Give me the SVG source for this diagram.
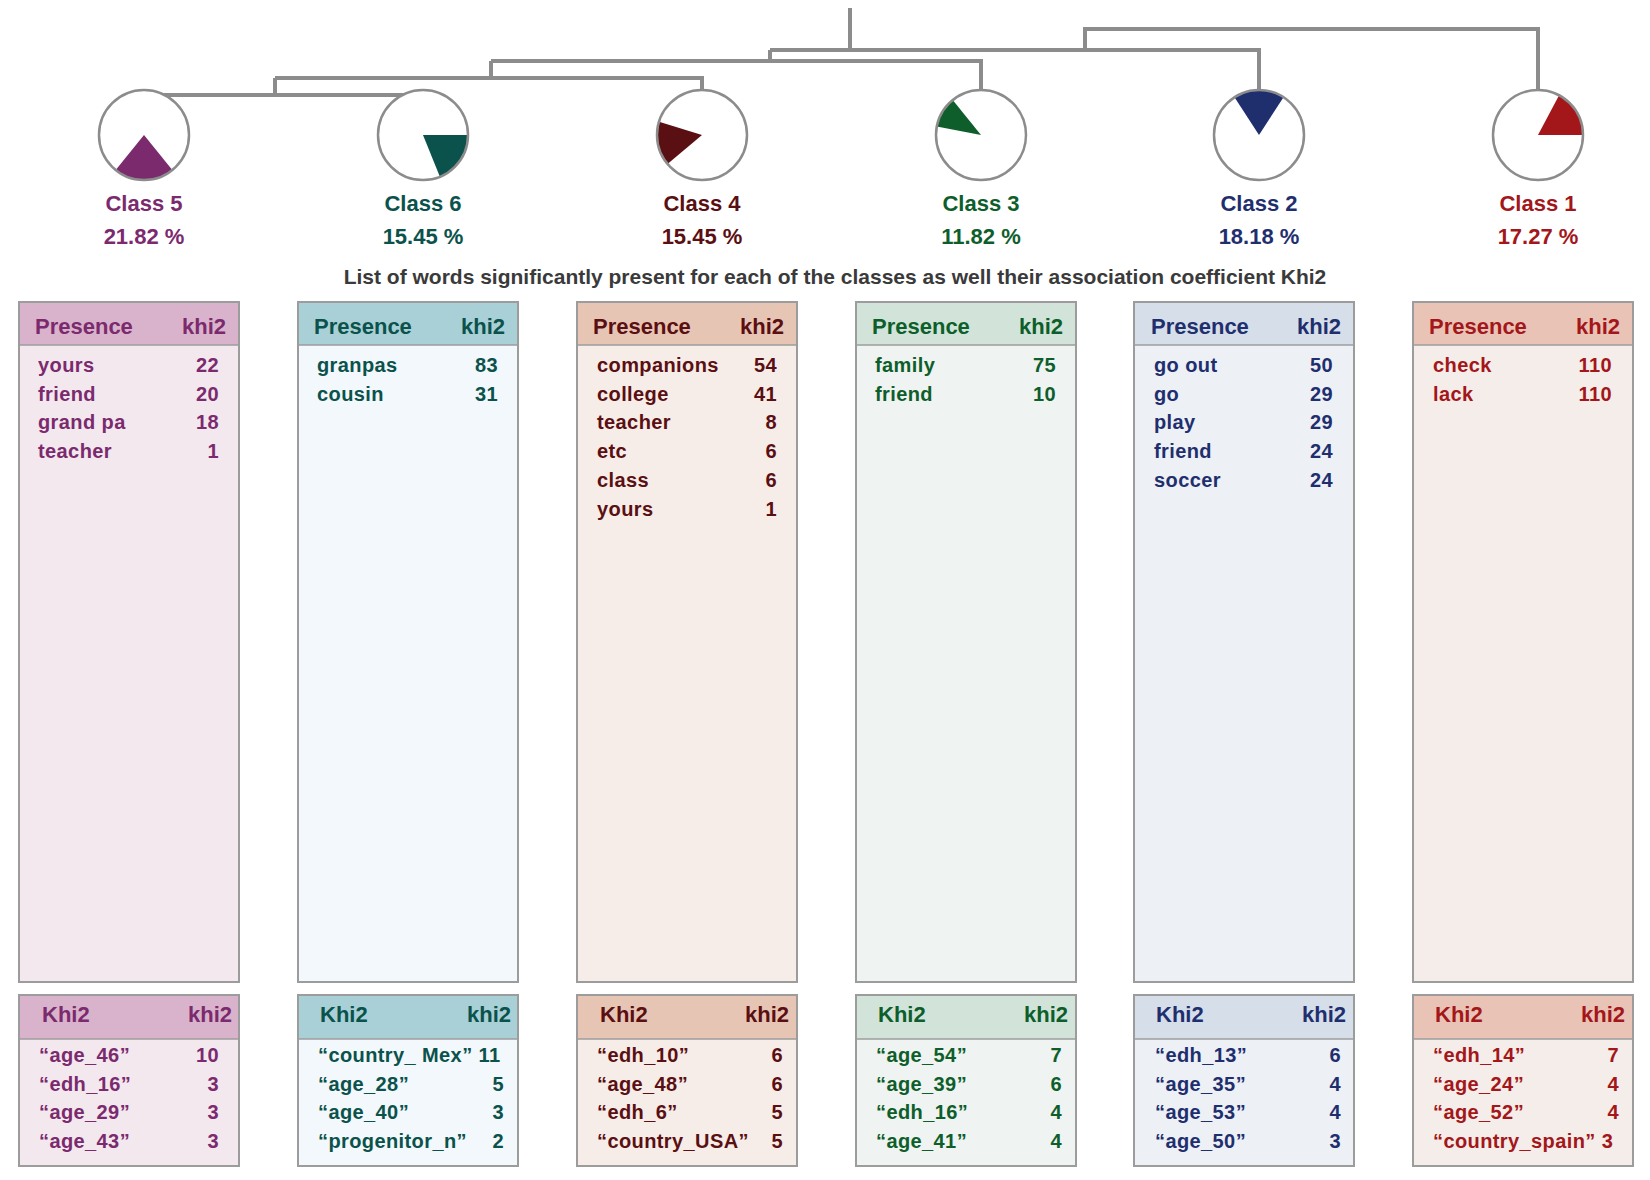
<svg xmlns="http://www.w3.org/2000/svg" width="1650" height="1180" viewBox="0 0 1650 1180">
<style>
text{font-family:"Liberation Sans",Arial,sans-serif;font-weight:bold}
.lbl{font-size:22px;text-anchor:middle}
.sub{font-size:21px;fill:#3a3a3a;text-anchor:middle}
.hd{font-size:22px}
.row{font-size:20px;letter-spacing:0.4px}
.r{text-anchor:end}
.box{stroke:#9c9c9c;stroke-width:2}
.sep{stroke:#9c9c9c;stroke-width:1.5}
.ring{fill:none;stroke:#8c8c8c;stroke-width:2.5}
.disc{fill:#ffffff}
.link{fill:none;stroke:#8c8c8c;stroke-width:4}
.t5{fill:#7b2a6e}.t6{fill:#0b524c}.t4{fill:#5a0f12}.t3{fill:#0e5e2b}.t2{fill:#1f2f6e}.t1{fill:#a3161a}
.h5{fill:#d9b3cb}.h6{fill:#a9d0d6}.h4{fill:#e7c5b5}.h3{fill:#d2e4d9}.h2{fill:#d6deea}.h1{fill:#e9c3b6}
.b5{fill:#f2e8ee}.b6{fill:#f2f8fb}.b4{fill:#f6ede9}.b3{fill:#eff3f1}.b2{fill:#edf1f6}.b1{fill:#f4ede9}
</style>
<rect width="1650" height="1180" fill="#ffffff"/>

<g id="connectors">
<path class="link" d="M144,95 H423"/>
<path class="link" d="M275,95 V78"/>
<path class="link" d="M275,78 H702 V135"/>
<path class="link" d="M491,78 V61"/>
<path class="link" d="M491,61 H981 V135"/>
<path class="link" d="M770,61 V50"/>
<path class="link" d="M770,50 H1259 V135"/>
<path class="link" d="M850,50 V8"/>
<path class="link" d="M1085,50 V29 H1538 V135"/>
</g>

<g id="class5">
<circle class="disc" cx="144" cy="135" r="45"/>
<path class="t5" d="M144,135 L172.3,170 A45,45 0 0 1 115.7,170 Z"/>
<circle class="ring" cx="144" cy="135" r="45"/>
<text class="lbl t5" x="144" y="211">Class 5</text>
<text class="lbl t5" x="144" y="244">21.82 %</text>
</g>
<g id="class6">
<circle class="disc" cx="423" cy="135" r="45"/>
<path class="t6" d="M423,135 L468,135 A45,45 0 0 1 439.9,176.7 Z"/>
<circle class="ring" cx="423" cy="135" r="45"/>
<text class="lbl t6" x="423" y="211">Class 6</text>
<text class="lbl t6" x="423" y="244">15.45 %</text>
</g>
<g id="class4">
<circle class="disc" cx="702" cy="135" r="45"/>
<path class="t4" d="M702,135 L667.5,163.9 A45,45 0 0 1 659,121.8 Z"/>
<circle class="ring" cx="702" cy="135" r="45"/>
<text class="lbl t4" x="702" y="211">Class 4</text>
<text class="lbl t4" x="702" y="244">15.45 %</text>
</g>
<g id="class3">
<circle class="disc" cx="981" cy="135" r="45"/>
<path class="t3" d="M981,135 L936.8,126.4 A45,45 0 0 1 952.7,100 Z"/>
<circle class="ring" cx="981" cy="135" r="45"/>
<text class="lbl t3" x="981" y="211">Class 3</text>
<text class="lbl t3" x="981" y="244">11.82 %</text>
</g>
<g id="class2">
<circle class="disc" cx="1259" cy="135" r="45"/>
<path class="t2" d="M1259,135 L1234.5,97.3 A45,45 0 0 1 1283.5,97.3 Z"/>
<circle class="ring" cx="1259" cy="135" r="45"/>
<text class="lbl t2" x="1259" y="211">Class 2</text>
<text class="lbl t2" x="1259" y="244">18.18 %</text>
</g>
<g id="class1">
<circle class="disc" cx="1538" cy="135" r="45"/>
<path class="t1" d="M1538,135 L1559.1,95.3 A45,45 0 0 1 1583,135 Z"/>
<circle class="ring" cx="1538" cy="135" r="45"/>
<text class="lbl t1" x="1538" y="211">Class 1</text>
<text class="lbl t1" x="1538" y="244">17.27 %</text>
</g>

<text id="subtitle" class="sub" x="835" y="284">List of words significantly present for each of the classes as well their association coefficient Khi2</text>

<!-- Class 5 tables -->
<g id="table5">
<rect class="b5" x="19" y="302" width="220" height="680"/>
<rect class="h5" x="19" y="302" width="220" height="43"/>
<line class="sep" x1="19" y1="345" x2="239" y2="345"/>
<rect class="box" x="19" y="302" width="220" height="680" fill="none"/>
<text class="hd t5" x="35" y="334">Presence</text><text class="hd t5 r" x="226" y="334">khi2</text>
<g class="row t5">
<text x="38" y="372">yours</text><text class="r" x="219" y="372">22</text>
<text x="38" y="400.7">friend</text><text class="r" x="219" y="400.7">20</text>
<text x="38" y="429.4">grand pa</text><text class="r" x="219" y="429.4">18</text>
<text x="38" y="458.1">teacher</text><text class="r" x="219" y="458.1">1</text>
</g>
</g>
<g id="khi5">
<rect class="b5" x="19" y="995" width="220" height="171"/>
<rect class="h5" x="19" y="995" width="220" height="44"/>
<line class="sep" x1="19" y1="1039" x2="239" y2="1039"/>
<rect class="box" x="19" y="995" width="220" height="171" fill="none"/>
<text class="hd t5" x="42" y="1022">Khi2</text><text class="hd t5 r" x="232" y="1022">khi2</text>
<g class="row t5">
<text x="39" y="1062">“age_46”</text><text class="r" x="219" y="1062">10</text>
<text x="39" y="1090.5">“edh_16”</text><text class="r" x="219" y="1090.5">3</text>
<text x="39" y="1119">“age_29”</text><text class="r" x="219" y="1119">3</text>
<text x="39" y="1147.5">“age_43”</text><text class="r" x="219" y="1147.5">3</text>
</g>
</g>

<!-- Class 6 tables -->
<g id="table6">
<rect class="b6" x="298" y="302" width="220" height="680"/>
<rect class="h6" x="298" y="302" width="220" height="43"/>
<line class="sep" x1="298" y1="345" x2="518" y2="345"/>
<rect class="box" x="298" y="302" width="220" height="680" fill="none"/>
<text class="hd t6" x="314" y="334">Presence</text><text class="hd t6 r" x="505" y="334">khi2</text>
<g class="row t6">
<text x="317" y="372">granpas</text><text class="r" x="498" y="372">83</text>
<text x="317" y="400.7">cousin</text><text class="r" x="498" y="400.7">31</text>
</g>
</g>
<g id="khi6">
<rect class="b6" x="298" y="995" width="220" height="171"/>
<rect class="h6" x="298" y="995" width="220" height="44"/>
<line class="sep" x1="298" y1="1039" x2="518" y2="1039"/>
<rect class="box" x="298" y="995" width="220" height="171" fill="none"/>
<text class="hd t6" x="320" y="1022">Khi2</text><text class="hd t6 r" x="511" y="1022">khi2</text>
<g class="row t6">
<text x="318" y="1062">“country_ Mex” 11</text>
<text x="318" y="1090.5">“age_28”</text><text class="r" x="504" y="1090.5">5</text>
<text x="318" y="1119">“age_40”</text><text class="r" x="504" y="1119">3</text>
<text x="318" y="1147.5">“progenitor_n”</text><text class="r" x="504" y="1147.5">2</text>
</g>
</g>

<!-- Class 4 tables -->
<g id="table4">
<rect class="b4" x="577" y="302" width="220" height="680"/>
<rect class="h4" x="577" y="302" width="220" height="43"/>
<line class="sep" x1="577" y1="345" x2="797" y2="345"/>
<rect class="box" x="577" y="302" width="220" height="680" fill="none"/>
<text class="hd t4" x="593" y="334">Presence</text><text class="hd t4 r" x="784" y="334">khi2</text>
<g class="row t4">
<text x="597" y="372">companions</text><text class="r" x="777" y="372">54</text>
<text x="597" y="400.7">college</text><text class="r" x="777" y="400.7">41</text>
<text x="597" y="429.4">teacher</text><text class="r" x="777" y="429.4">8</text>
<text x="597" y="458.1">etc</text><text class="r" x="777" y="458.1">6</text>
<text x="597" y="486.8">class</text><text class="r" x="777" y="486.8">6</text>
<text x="597" y="515.5">yours</text><text class="r" x="777" y="515.5">1</text>
</g>
</g>
<g id="khi4">
<rect class="b4" x="577" y="995" width="220" height="171"/>
<rect class="h4" x="577" y="995" width="220" height="44"/>
<line class="sep" x1="577" y1="1039" x2="797" y2="1039"/>
<rect class="box" x="577" y="995" width="220" height="171" fill="none"/>
<text class="hd t4" x="600" y="1022">Khi2</text><text class="hd t4 r" x="789" y="1022">khi2</text>
<g class="row t4">
<text x="597" y="1062">“edh_10”</text><text class="r" x="783" y="1062">6</text>
<text x="597" y="1090.5">“age_48”</text><text class="r" x="783" y="1090.5">6</text>
<text x="597" y="1119">“edh_6”</text><text class="r" x="783" y="1119">5</text>
<text x="597" y="1147.5">“country_USA”</text><text class="r" x="783" y="1147.5">5</text>
</g>
</g>

<!-- Class 3 tables -->
<g id="table3">
<rect class="b3" x="856" y="302" width="220" height="680"/>
<rect class="h3" x="856" y="302" width="220" height="43"/>
<line class="sep" x1="856" y1="345" x2="1076" y2="345"/>
<rect class="box" x="856" y="302" width="220" height="680" fill="none"/>
<text class="hd t3" x="872" y="334">Presence</text><text class="hd t3 r" x="1063" y="334">khi2</text>
<g class="row t3">
<text x="875" y="372">family</text><text class="r" x="1056" y="372">75</text>
<text x="875" y="400.7">friend</text><text class="r" x="1056" y="400.7">10</text>
</g>
</g>
<g id="khi3">
<rect class="b3" x="856" y="995" width="220" height="171"/>
<rect class="h3" x="856" y="995" width="220" height="44"/>
<line class="sep" x1="856" y1="1039" x2="1076" y2="1039"/>
<rect class="box" x="856" y="995" width="220" height="171" fill="none"/>
<text class="hd t3" x="878" y="1022">Khi2</text><text class="hd t3 r" x="1068" y="1022">khi2</text>
<g class="row t3">
<text x="876" y="1062">“age_54”</text><text class="r" x="1062" y="1062">7</text>
<text x="876" y="1090.5">“age_39”</text><text class="r" x="1062" y="1090.5">6</text>
<text x="876" y="1119">“edh_16”</text><text class="r" x="1062" y="1119">4</text>
<text x="876" y="1147.5">“age_41”</text><text class="r" x="1062" y="1147.5">4</text>
</g>
</g>

<!-- Class 2 tables -->
<g id="table2">
<rect class="b2" x="1134" y="302" width="220" height="680"/>
<rect class="h2" x="1134" y="302" width="220" height="43"/>
<line class="sep" x1="1134" y1="345" x2="1354" y2="345"/>
<rect class="box" x="1134" y="302" width="220" height="680" fill="none"/>
<text class="hd t2" x="1151" y="334">Presence</text><text class="hd t2 r" x="1341" y="334">khi2</text>
<g class="row t2">
<text x="1154" y="372">go out</text><text class="r" x="1333" y="372">50</text>
<text x="1154" y="400.7">go</text><text class="r" x="1333" y="400.7">29</text>
<text x="1154" y="429.4">play</text><text class="r" x="1333" y="429.4">29</text>
<text x="1154" y="458.1">friend</text><text class="r" x="1333" y="458.1">24</text>
<text x="1154" y="486.8">soccer</text><text class="r" x="1333" y="486.8">24</text>
</g>
</g>
<g id="khi2box">
<rect class="b2" x="1134" y="995" width="220" height="171"/>
<rect class="h2" x="1134" y="995" width="220" height="44"/>
<line class="sep" x1="1134" y1="1039" x2="1354" y2="1039"/>
<rect class="box" x="1134" y="995" width="220" height="171" fill="none"/>
<text class="hd t2" x="1156" y="1022">Khi2</text><text class="hd t2 r" x="1346" y="1022">khi2</text>
<g class="row t2">
<text x="1155" y="1062">“edh_13”</text><text class="r" x="1341" y="1062">6</text>
<text x="1155" y="1090.5">“age_35”</text><text class="r" x="1341" y="1090.5">4</text>
<text x="1155" y="1119">“age_53”</text><text class="r" x="1341" y="1119">4</text>
<text x="1155" y="1147.5">“age_50”</text><text class="r" x="1341" y="1147.5">3</text>
</g>
</g>

<!-- Class 1 tables -->
<g id="table1">
<rect class="b1" x="1413" y="302" width="220" height="680"/>
<rect class="h1" x="1413" y="302" width="220" height="43"/>
<line class="sep" x1="1413" y1="345" x2="1633" y2="345"/>
<rect class="box" x="1413" y="302" width="220" height="680" fill="none"/>
<text class="hd t1" x="1429" y="334">Presence</text><text class="hd t1 r" x="1620" y="334">khi2</text>
<g class="row t1">
<text x="1433" y="372">check</text><text class="r" x="1612" y="372">110</text>
<text x="1433" y="400.7">lack</text><text class="r" x="1612" y="400.7">110</text>
</g>
</g>
<g id="khi1">
<rect class="b1" x="1413" y="995" width="220" height="171"/>
<rect class="h1" x="1413" y="995" width="220" height="44"/>
<line class="sep" x1="1413" y1="1039" x2="1633" y2="1039"/>
<rect class="box" x="1413" y="995" width="220" height="171" fill="none"/>
<text class="hd t1" x="1435" y="1022">Khi2</text><text class="hd t1 r" x="1625" y="1022">khi2</text>
<g class="row t1">
<text x="1433" y="1062">“edh_14”</text><text class="r" x="1619" y="1062">7</text>
<text x="1433" y="1090.5">“age_24”</text><text class="r" x="1619" y="1090.5">4</text>
<text x="1433" y="1119">“age_52”</text><text class="r" x="1619" y="1119">4</text>
<text x="1433" y="1147.5">“country_spain” 3</text>
</g>
</g>
</svg>
